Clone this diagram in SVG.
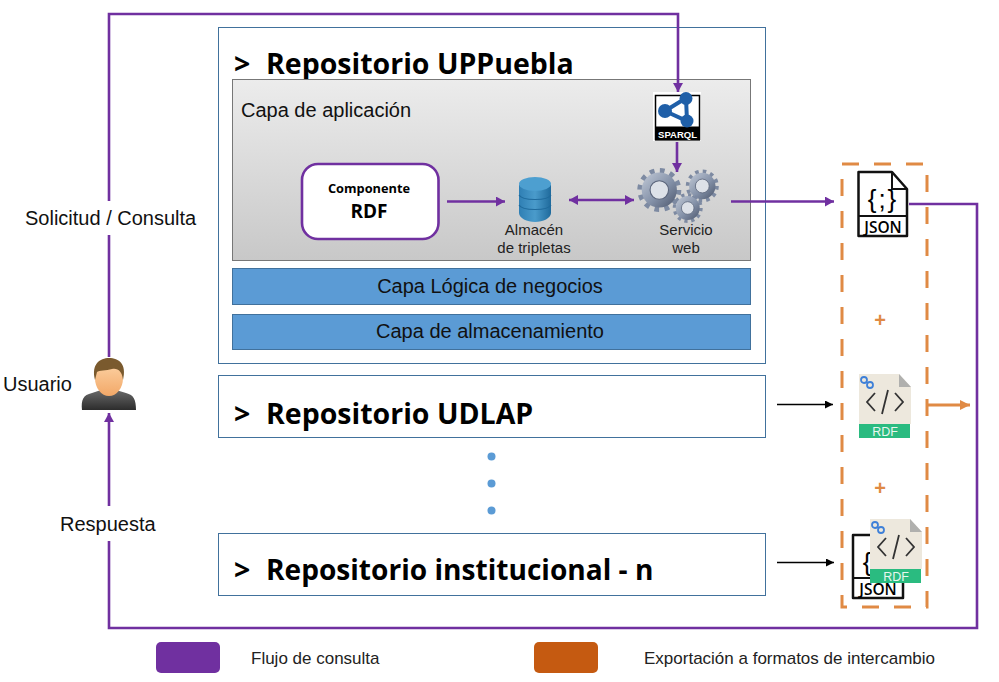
<svg xmlns="http://www.w3.org/2000/svg" width="999" height="682" viewBox="0 0 999 682">
<defs>
<linearGradient id="appBg" x1="0" y1="0" x2="0" y2="1"><stop offset="0" stop-color="#ececec"/><stop offset="1" stop-color="#c8c8c8"/></linearGradient>
<linearGradient id="gearG" gradientUnits="objectBoundingBox" x1="0" y1="0" x2="1" y2="1"><stop offset="0" stop-color="#c3cbd8"/><stop offset="0.55" stop-color="#8491a8"/><stop offset="1" stop-color="#4c566c"/></linearGradient>
<linearGradient id="cyl" x1="0" y1="0" x2="1" y2="0"><stop offset="0" stop-color="#2f7fb4"/><stop offset="0.5" stop-color="#4a9bcb"/><stop offset="1" stop-color="#1f6a9c"/></linearGradient>
<linearGradient id="skin" x1="0" y1="0" x2="0" y2="1"><stop offset="0" stop-color="#fdd5a8"/><stop offset="1" stop-color="#f2a868"/></linearGradient>
<linearGradient id="shirt" x1="0" y1="0" x2="0" y2="1"><stop offset="0" stop-color="#6a6a6a"/><stop offset="1" stop-color="#2c2c2c"/></linearGradient>
<marker id="ap" markerUnits="userSpaceOnUse" markerWidth="11" markerHeight="11" refX="9" refY="5" orient="auto-start-reverse"><path d="M0 0L9 5L0 10Z" fill="#7030a0"/></marker>
<marker id="ak" markerUnits="userSpaceOnUse" markerWidth="9" markerHeight="9" refX="8" refY="4" orient="auto"><path d="M0 0L8 4L0 8Z" fill="#000"/></marker>
<marker id="ao" markerUnits="userSpaceOnUse" markerWidth="12" markerHeight="11" refX="10" refY="5" orient="auto"><path d="M0 0L10 5L0 10Z" fill="#e08a44"/></marker>
<g id="gearShape"><circle r="0.82" fill="none" stroke="#7d8aa2" stroke-width="0.36" stroke-dasharray="0.2 0.2293"/><circle r="0.8" fill="url(#gearG)"/><circle r="0.42" fill="#dde1e8" stroke="#5a647a" stroke-width="0.05"/></g>
<g id="rdfDoc">
<path d="M0 0H40L52 13V50H0Z" fill="#ede8dd"/>
<path d="M40 0L52 13L40 13Z" fill="#b0b0ae"/>
<rect x="0" y="50" width="51" height="14" fill="#2abb80"/>
<text x="26" y="62" class="s" font-size="12.500" fill="#e8f7ef" text-anchor="middle">RDF</text>
<path d="M16 19L8 28L16 37M36 19L44 28L36 37M29 16L23 40" fill="none" stroke="#333" stroke-width="1.800"/>
<circle cx="5" cy="6" r="3" fill="none" stroke="#3f80d8" stroke-width="1.800"/>
<circle cx="11" cy="11" r="3" fill="none" stroke="#3f80d8" stroke-width="1.800"/>
</g>
</defs>
<style>
text{font-family:"Liberation Sans",Arial,sans-serif}
.t{font-family:"Open Sans","Noto Sans",sans-serif;font-weight:700;font-size:28.500px;fill:#000}
.s{font-family:"Liberation Sans",Arial,sans-serif}
.l{font-size:20px;fill:#111}
.sm{font-size:15px;fill:#222;text-anchor:middle}
.box{fill:#fff;stroke:#41719c;stroke-width:1}
.bar{fill:#5b9bd5;stroke:#41719c;stroke-width:1}
.cp{fill:none;stroke:#7030a0;stroke-width:2.600}
.ck{fill:none;stroke:#000;stroke-width:1.600}
.co{fill:none;stroke:#e08a44;stroke-width:3}
.js{font-size:26px;letter-spacing:2px;text-anchor:middle}
.jn{font-family:"Open Sans",sans-serif;font-weight:600;font-size:15.500px;text-anchor:middle}
</style>
<rect width="999" height="682" fill="#fff"/>

<g id="repo-uppuebla">
<rect class="box" x="218.500" y="27.500" width="547" height="336"/>
<text class="t" x="234" y="74">&gt;<tspan x="266">Repositorio UPPuebla</tspan></text>
</g>
<g id="capa-aplicacion">
<rect x="232.500" y="79.500" width="518" height="181" fill="url(#appBg)" stroke="#777" stroke-width="1"/>
<text class="l" x="241" y="117">Capa de aplicación</text>
</g>
<g id="capa-logica"><rect class="bar" x="232.500" y="268.500" width="518" height="36"/><text class="l" x="490" y="293" text-anchor="middle">Capa Lógica de negocios</text></g>
<g id="capa-almacenamiento"><rect class="bar" x="232.500" y="314.500" width="518" height="35"/><text class="l" x="490" y="338" text-anchor="middle">Capa de almacenamiento</text></g>
<g id="repo-udlap"><rect class="box" x="218.500" y="375.500" width="547" height="62"/><text class="t" x="234" y="424">&gt;<tspan x="266">Repositorio UDLAP</tspan></text></g>
<g id="repo-n"><rect class="box" x="218.500" y="533.500" width="547" height="62"/><text class="t" x="234" y="580" font-size="28">&gt;<tspan x="266" style="font-size:28.100px">Repositorio institucional - n</tspan></text></g>
<g id="dots" fill="#5b9bd5"><circle cx="491.500" cy="456.500" r="4"/><circle cx="491.500" cy="483.500" r="4"/><circle cx="491.500" cy="510.500" r="4"/></g>

<g id="componente-rdf">
<rect x="302" y="164" width="136.500" height="75" rx="16" fill="#fff" stroke="#7030a0" stroke-width="2.600"/>
<text x="369" y="193" text-anchor="middle" style="font-family:'Open Sans',sans-serif;font-weight:700;font-size:12.800px">Componente</text>
<text x="369" y="218" text-anchor="middle" style="font-family:'Open Sans',sans-serif;font-weight:700;font-size:19px">RDF</text>
</g>
<g id="almacen">
<path d="M519 185V213C519 218 527 222 535 222S551 218 551 213V185Z" fill="url(#cyl)"/>
<ellipse cx="535" cy="184" rx="16" ry="7" fill="#4d9fd0"/>
<path d="M519 195C522 201 548 201 551 195M519 205C522 211 548 211 551 205" fill="none" stroke="#1f6a9c" stroke-width="1.200"/>
<text class="sm" x="534" y="235">Almacén</text><text class="sm" x="534" y="253">de tripletas</text>
</g>
<g id="sparql">
<rect x="653" y="92" width="48" height="49" fill="#fff"/>
<rect x="655.500" y="95.500" width="44" height="44" fill="#fff" stroke="#000" stroke-width="1.500"/>
<rect x="655" y="126.500" width="45" height="14" fill="#000"/>
<path d="M665 111L686 98L687 121Z" fill="none" stroke="#1f5fa8" stroke-width="4"/>
<circle cx="665" cy="111" r="7" fill="#1f5fa8"/><circle cx="686" cy="98.500" r="6.500" fill="#1f5fa8"/><circle cx="687" cy="121" r="6.500" fill="#1f5fa8"/>
<text x="677.500" y="138" text-anchor="middle" font-size="9.500" font-weight="700" fill="#fff">SPARQL</text>
</g>
<g id="servicio-web">
<use href="#gearShape" transform="translate(702.300 186) scale(16.500)"/>
<use href="#gearShape" transform="translate(659.300 190) scale(22)"/>
<use href="#gearShape" transform="translate(687.700 208) scale(15)"/>
<text class="sm" x="686" y="235">Servicio</text><text class="sm" x="686" y="253">web</text>
</g>

<g id="usuario">
<text class="l" x="3" y="391">Usuario</text>
<path d="M82 410C81 400 83 395 92 393L101 390H116L126 393C134 395 136 400 136 410Z" fill="url(#shirt)"/>
<ellipse cx="109" cy="378" rx="14" ry="18" fill="url(#skin)"/>
<path d="M95 380C91 364 100 358 109 358C119 358 127 364 123 380C122 371 118 368 112 369C106 371 99 370 97 372Z" fill="#7a5a2e"/>
</g>

<g id="json-1">
<path d="M858.500 172H892L907 189V236H858.500Z" fill="#fff" stroke="#111" stroke-width="2.500" stroke-linejoin="round"/>
<path d="M892 172V189H907M858.500 216H907" fill="none" stroke="#111" stroke-width="2"/>
<text class="js" x="883" y="208">{;}</text>
<text class="jn" x="883" y="233">JSON</text>
</g>
<g id="rdf-1"><use href="#rdfDoc" x="859" y="374"/></g>
<g id="json-2">
<path d="M853 535H885L903 553V598H853Z" fill="#fff" stroke="#111" stroke-width="2.500" stroke-linejoin="round"/>
<path d="M853 578H903" fill="none" stroke="#111" stroke-width="2"/>
<text class="js" x="868" y="571">{</text>
<text class="jn" x="878" y="595">JSON</text>
</g>
<g id="rdf-2"><use href="#rdfDoc" x="870" y="519"/></g>
<g id="export-box">
<rect x="842" y="164" width="85" height="443" fill="none" stroke="#e08a44" stroke-width="3" stroke-dasharray="17 15"/>
<text x="880" y="327" text-anchor="middle" font-size="20" font-weight="700" fill="#e08a44">+</text>
<text x="880" y="495" text-anchor="middle" font-size="20" font-weight="700" fill="#e08a44">+</text>
</g>

<g id="connectors">
<path class="cp" d="M109 357V14H678V92" marker-end="url(#ap)"/>
<path class="cp" d="M677 142V172" marker-end="url(#ap)"/>
<path class="cp" d="M447 201.500H505" marker-end="url(#ap)"/>
<path class="cp" d="M569 200H634" marker-start="url(#ap)" marker-end="url(#ap)"/>
<path class="cp" d="M731 201.500H834" marker-end="url(#ap)"/>
<path class="cp" d="M909 204H977V628H109V413" marker-end="url(#ap)"/>
<path class="ck" d="M777 404.500H833" marker-end="url(#ak)"/>
<path class="ck" d="M777 562.500H834" marker-end="url(#ak)"/>
<path class="co" d="M928 405H970" marker-end="url(#ao)"/>
</g>

<g id="label-solicitud"><rect x="20" y="201" width="180" height="34" fill="#fff"/><text class="l" x="25" y="225">Solicitud / Consulta</text></g>
<g id="label-respuesta"><rect x="55" y="506" width="105" height="35" fill="#fff"/><text class="l" x="60" y="531">Respuesta</text></g>

<g id="legend">
<rect x="156" y="642" width="64" height="31" rx="5" fill="#7030a0"/>
<text x="251" y="664" font-size="17" fill="#222">Flujo de consulta</text>
<rect x="534" y="642" width="64" height="31" rx="5" fill="#c55a11"/>
<text x="644" y="664" font-size="17" fill="#222">Exportación a formatos de intercambio</text>
</g>
</svg>
